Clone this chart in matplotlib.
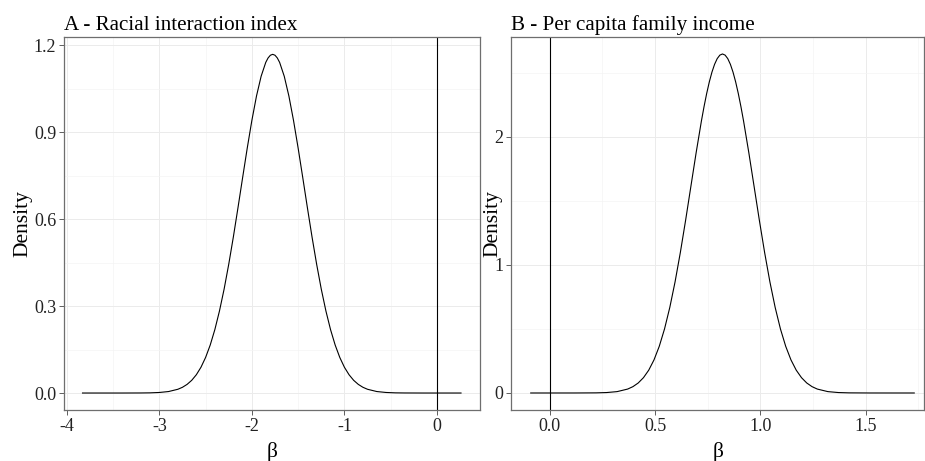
import numpy as np
import matplotlib
matplotlib.use("Agg")
import matplotlib.pyplot as plt
from matplotlib.ticker import MultipleLocator, FormatStrFormatter

plt.rcParams['font.family'] = ['Liberation Serif', 'DejaVu Serif']
plt.rcParams['axes.unicode_minus'] = False

# panel A - racial interaction index (density)
a_x = [-3.83, -3.6, -3.4, -3.2, -3.1, -3.0, -2.9,
       -2.80, -2.75, -2.70, -2.65, -2.60, -2.55, -2.50, -2.45, -2.40, -2.35, -2.30,
       -2.25, -2.20, -2.15, -2.10, -2.05, -2.00, -1.95, -1.90, -1.85, -1.825, -1.80,
       -1.775,
       -1.75, -1.725, -1.70, -1.65, -1.60, -1.55, -1.50, -1.45, -1.40, -1.35, -1.30,
       -1.25, -1.20, -1.15, -1.10, -1.05, -1.00, -0.95, -0.90, -0.85, -0.80, -0.75,
       -0.65, -0.55, -0.45, -0.35, -0.15, 0.05, 0.26]
a_y = [0.0, 0.0, 0.0, 0.0002, 0.0006, 0.0019, 0.0051,
       0.0129, 0.0198, 0.0298, 0.0438, 0.0631, 0.0889, 0.1227, 0.1656, 0.2188, 0.2831, 0.3583,
       0.4440, 0.5384, 0.6392, 0.7427, 0.8446, 0.9401, 1.0243, 1.0923, 1.1402, 1.1555, 1.1649,
       1.168,
       1.1649, 1.1555, 1.1402, 1.0923, 1.0243, 0.9401, 0.8446, 0.7427, 0.6392, 0.5384, 0.4440,
       0.3583, 0.2831, 0.2188, 0.1656, 0.1227, 0.0889, 0.0631, 0.0438, 0.0298, 0.0198, 0.0129,
       0.0051, 0.0019, 0.0006, 0.0002, 0.0, 0.0, 0.0]

# panel B - per capita family income
b_x = [-0.09, 0.02, 0.12, 0.22, 0.27, 0.32,
       0.370, 0.395, 0.420, 0.445, 0.470, 0.495, 0.520, 0.545, 0.570, 0.595,
       0.620, 0.645, 0.670, 0.695, 0.720, 0.7325, 0.745, 0.7575, 0.770, 0.7825,
       0.795, 0.8075, 0.820, 0.8325, 0.845, 0.8575, 0.870, 0.8825, 0.895, 0.9075,
       0.920, 0.945, 0.970, 0.995, 1.020, 1.045,
       1.070, 1.095, 1.120, 1.145, 1.170, 1.195, 1.220, 1.245, 1.270,
       1.32, 1.37, 1.42, 1.52, 1.62, 1.73]
b_y = [0.0, 0.0, 0.0001, 0.0010, 0.0034, 0.0107,
       0.0306, 0.0495, 0.0780, 0.1196, 0.1782, 0.2585, 0.3647, 0.5005, 0.6684, 0.8681,
       1.0971, 1.3488, 1.6132, 1.8769, 2.1245, 2.2370, 2.3394, 2.4297, 2.5061, 2.5672,
       2.6118, 2.6389, 2.648, 2.6389, 2.6118, 2.5672, 2.5061, 2.4297, 2.3394, 2.2370,
       2.1245, 1.8769, 1.6132, 1.3488, 1.0971, 0.8681,
       0.6684, 0.5005, 0.3647, 0.2585, 0.1782, 0.1196, 0.0780, 0.0495, 0.0306,
       0.0107, 0.0034, 0.0010, 0.0001, 0.0, 0.0]

titles = ["A - Racial interaction index", "B - Per capita family income"]

fig = plt.figure(figsize=(9.25, 4.61), dpi=100)
ax1 = fig.add_axes([0.0692, 0.1106, 0.4497, 0.809])
ax2 = fig.add_axes([0.5528, 0.1106, 0.4465, 0.809])


def style(ax, xmaj, ymaj, fmt_x, fmt_y, ylab_x):
    ax.xaxis.set_major_locator(MultipleLocator(xmaj))
    ax.xaxis.set_minor_locator(MultipleLocator(xmaj / 2))
    ax.yaxis.set_major_locator(MultipleLocator(ymaj))
    ax.yaxis.set_minor_locator(MultipleLocator(ymaj / 2))
    ax.xaxis.set_major_formatter(FormatStrFormatter(fmt_x))
    ax.yaxis.set_major_formatter(FormatStrFormatter(fmt_y))
    ax.grid(which='major', color='#EBEBEB', lw=0.7)
    ax.grid(which='minor', color='#F4F4F4', lw=0.5)
    ax.set_axisbelow(True)
    ax.tick_params(which='minor', length=0)
    ax.tick_params(which='major', length=3.5, width=0.6, color='#444444',
                   labelsize=13, labelcolor='#222222', pad=2)
    for s in ax.spines.values():
        s.set_color('#6E6E6E')
        s.set_linewidth(0.9)
    ax.set_ylabel("Density", fontsize=15.5)
    # label right edge sits at ylab_x (axes fraction)
    ax.yaxis.set_label_coords(ylab_x, 0.5)
    ax.set_xlabel("β", fontsize=15.5, labelpad=5)


ax1.axvline(0, color='black', lw=0.8)
ax1.plot(a_x, a_y, color='black', lw=0.8)
ax1.set_xlim(-4.03, 0.465)
ax1.set_ylim(-0.0586, 1.2276)
style(ax1, 1, 0.3, '%d', '%.1f', -0.077)
ax1.set_title(titles[0], loc='left', fontsize=15.2, pad=5)

ax2.axvline(0, color='black', lw=0.8)
ax2.plot(b_x, b_y, color='black', lw=0.8)
ax2.set_xlim(-0.182, 1.778)
ax2.set_ylim(-0.133, 2.78)
style(ax2, 0.5, 1, '%.1f', '%d', -0.0225)
ax2.set_title(titles[1], loc='left', fontsize=15.2, pad=5)

fig.savefig("out.png", dpi=100)
